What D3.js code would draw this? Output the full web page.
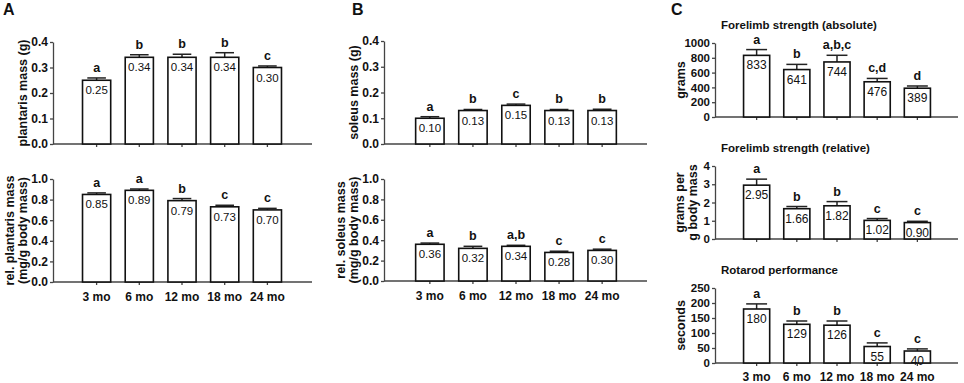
<!DOCTYPE html>
<html>
<head>
<meta charset="utf-8">
<script src="https://cdn.jsdelivr.net/npm/d3@7"></script>
<style>
  body { margin: 0; background: #fff; }
  svg { font-family: "Liberation Sans", Arial, sans-serif; }
  .axis path, .axis line { stroke: #444; stroke-width: 1.3; }
  .axis text { font-weight: bold; font-size: 12px; fill: #111; }
</style>
</head>
<body>
<svg id="fig" width="964" height="383"></svg>
<script>
// categories
const months = ["3 mo", "6 mo", "12 mo", "18 mo", "24 mo"];

// A: plantaris
const plantarisMass = [0.25, 0.34, 0.34, 0.34, 0.30];
const plantarisMassErr = [0.009, 0.010, 0.012, 0.018, 0.006];
const plantarisMassLetters = ["a", "b", "b", "b", "c"];
const relPlantaris = [0.85, 0.89, 0.79, 0.73, 0.70];
const relPlantarisErr = [0.015, 0.013, 0.02, 0.015, 0.015];
const relPlantarisLetters = ["a", "a", "b", "c", "c"];

// B: soleus
const soleusMass = [0.10, 0.13, 0.15, 0.13, 0.13];
const soleusMassErr = [0.006, 0.004, 0.005, 0.004, 0.005];
const soleusMassLetters = ["a", "b", "c", "b", "b"];
const relSoleus = [0.36, 0.32, 0.34, 0.28, 0.30];
const relSoleusErr = [0.012, 0.02, 0.01, 0.012, 0.012];
const relSoleusLetters = ["a", "b", "a,b", "c", "c"];

// C: function tests
const forelimbAbs = [833, 641, 744, 476, 389];
const forelimbAbsErr = [78, 70, 90, 45, 30];
const forelimbAbsLetters = ["a", "b", "a,b,c", "c,d", "d"];
const forelimbRel = [2.95, 1.66, 1.82, 1.02, 0.90];
const forelimbRelErr = [0.33, 0.12, 0.23, 0.1, 0.07];
const forelimbRelLetters = ["a", "b", "b", "c", "c"];
const rotarod = [180, 129, 126, 55, 40];
const rotarodErr = [17, 11, 14, 12, 7];
const rotarodLetters = ["a", "b", "b", "c", "c"];

const svg = d3.select("#fig");

function barPanel(cfg) {
  const g = svg.append("g");
  const x = d3.scaleBand().domain(months).range([cfg.bandL, cfg.bandR]).padding(cfg.pad || 0.34);
  const y = d3.scaleLinear().domain([0, cfg.max]).range([cfg.bottom, cfg.top]);

  // x axis line with small ticks under bars
  const xa = g.append("g").attr("class", "axis")
      .attr("transform", `translate(0,${cfg.bottom})`);
  xa.append("line").attr("x1", cfg.left).attr("x2", cfg.right).attr("y1", 0).attr("y2", 0);
  xa.selectAll(".tk").data(months).enter().append("line")
      .attr("x1", d => x(d) + x.bandwidth() / 2).attr("x2", d => x(d) + x.bandwidth() / 2)
      .attr("y1", 0).attr("y2", 3);
  if (cfg.showX) {
    xa.selectAll(".lb").data(months).enter().append("text")
        .attr("x", d => x(d) + x.bandwidth() / 2)
        .attr("y", cfg.xLabelY - cfg.bottom)
        .attr("text-anchor", "middle")
        .text(d => d);
  }

  // y axis
  const ya = g.append("g").attr("class", "axis")
      .attr("transform", `translate(${cfg.left},0)`)
      .call(d3.axisLeft(y).tickValues(d3.range(0, cfg.max + cfg.step / 2, cfg.step))
        .tickFormat(d3.format(cfg.fmt)).tickSize(3).tickSizeOuter(0).tickPadding(2));
  if (cfg.tickFont) ya.selectAll("text").style("font-size", cfg.tickFont);

  const data = cfg.values.map((v, i) => ({ m: months[i], v: v, e: cfg.errs[i], l: cfg.letters[i] }));
  const cx = d => x(d.m) + x.bandwidth() / 2;
  const capW = x.bandwidth() * (cfg.cap || 0.66);

  // error bars (upper only)
  g.selectAll(".eb").data(data).enter().append("line")
      .attr("x1", cx).attr("x2", cx)
      .attr("y1", d => y(d.v)).attr("y2", d => y(d.v + d.e))
      .attr("stroke", "#222").attr("stroke-width", 1.5);
  g.selectAll(".cap").data(data).enter().append("line")
      .attr("x1", d => cx(d) - capW / 2).attr("x2", d => cx(d) + capW / 2)
      .attr("y1", d => y(d.v + d.e)).attr("y2", d => y(d.v + d.e))
      .attr("stroke", "#222").attr("stroke-width", 1.5);

  g.selectAll(".bar").data(data).enter().append("rect")
      .attr("x", d => x(d.m)).attr("width", x.bandwidth())
      .attr("y", d => y(d.v)).attr("height", d => y(0) - y(d.v))
      .attr("fill", "#fff").attr("stroke", "#111").attr("stroke-width", 1.6);

  g.selectAll(".val").data(data).enter().append("text")
      .attr("x", cx).attr("y", d => y(d.v) + 14)
      .attr("text-anchor", "middle").attr("font-size", cfg.valFont || "11.5px").attr("fill", "#111")
      .text(d => d3.format(cfg.vfmt)(d.v));

  g.selectAll(".let").data(data).enter().append("text")
      .attr("x", cx).attr("y", d => y(d.v + d.e) - 6)
      .attr("text-anchor", "middle").attr("font-size", "12.5px").attr("font-weight", "bold")
      .attr("fill", "#111")
      .text(d => d.l);

  // y label
  const mid = (cfg.top + cfg.bottom) / 2;
  const yl = g.append("text")
      .attr("transform", `translate(${cfg.ylabelX},${mid}) rotate(-90)`)
      .attr("text-anchor", "middle").attr("font-size", "12.5px").attr("font-weight", "bold")
      .attr("fill", "#111");
  cfg.ylabel.forEach((t, i) => {
    yl.append("tspan").attr("x", 0).attr("dy", i === 0 ? 0 : 12.5).text(t);
  });

  if (cfg.title) {
    g.append("text").attr("x", cfg.titleX).attr("y", cfg.titleY)
        .attr("font-size", "11.5px").attr("font-weight", "bold").attr("fill", "#111")
        .text(cfg.title);
  }
}

// panel letters
[["A", 3, 15], ["B", 352, 15], ["C", 671, 15]].forEach(p => {
  svg.append("text").attr("x", p[1]).attr("y", p[2])
      .attr("font-size", "16px").attr("font-weight", "bold").attr("fill", "#111").text(p[0]);
});

const abBase = { pad: 0.34, vfmt: ".2f" };

barPanel(Object.assign({}, abBase, {
  left: 53, right: 312, bandL: 68, bandR: 296, top: 42, bottom: 144,
  max: 0.4, step: 0.1, fmt: ".1f",
  values: plantarisMass, errs: plantarisMassErr, letters: plantarisMassLetters,
  ylabel: ["plantaris mass (g)"], ylabelX: 27
}));
barPanel(Object.assign({}, abBase, {
  left: 53, right: 312, bandL: 68, bandR: 296, top: 179, bottom: 282,
  max: 1.0, step: 0.2, fmt: ".1f",
  values: relPlantaris, errs: relPlantarisErr, letters: relPlantarisLetters,
  ylabel: ["rel. plantaris mass", "(mg/g body mass)"], ylabelX: 14,
  showX: true, xLabelY: 301
}));

barPanel(Object.assign({}, abBase, {
  left: 384, right: 647, bandL: 401, bandR: 631, top: 41, bottom: 144,
  max: 0.4, step: 0.1, fmt: ".1f",
  values: soleusMass, errs: soleusMassErr, letters: soleusMassLetters,
  ylabel: ["soleus mass (g)"], ylabelX: 358
}));
barPanel(Object.assign({}, abBase, {
  left: 384, right: 647, bandL: 401, bandR: 631, top: 179, bottom: 281,
  max: 1.0, step: 0.2, fmt: ".1f",
  values: relSoleus, errs: relSoleusErr, letters: relSoleusLetters,
  ylabel: ["rel. soleus mass", "(mg/g body mass)"], ylabelX: 345,
  showX: true, xLabelY: 300
}));

const cBase = { left: 715, right: 958, bandL: 729.5, bandR: 944.5, pad: 0.35, cap: 0.8,
  titleX: 721, tickFont: "11.5px", valFont: "12px" };

barPanel(Object.assign({}, cBase, {
  top: 43, bottom: 117, max: 1000, step: 200, fmt: "d", vfmt: "d",
  values: forelimbAbs, errs: forelimbAbsErr, letters: forelimbAbsLetters,
  ylabel: ["grams"], ylabelX: 685, title: "Forelimb strength (absolute)", titleY: 29
}));
barPanel(Object.assign({}, cBase, {
  top: 166, bottom: 239, max: 4, step: 1, fmt: "d", vfmt: ".2f",
  values: forelimbRel, errs: forelimbRelErr, letters: forelimbRelLetters,
  ylabel: ["grams per", "g body mass"], ylabelX: 684, title: "Forelimb strength (relative)", titleY: 152
}));
barPanel(Object.assign({}, cBase, {
  top: 288, bottom: 363, max: 250, step: 50, fmt: "d", vfmt: "d",
  values: rotarod, errs: rotarodErr, letters: rotarodLetters,
  ylabel: ["seconds"], ylabelX: 685, title: "Rotarod performance", titleY: 274,
  showX: true, xLabelY: 381
}));
</script>
</body>
</html>
